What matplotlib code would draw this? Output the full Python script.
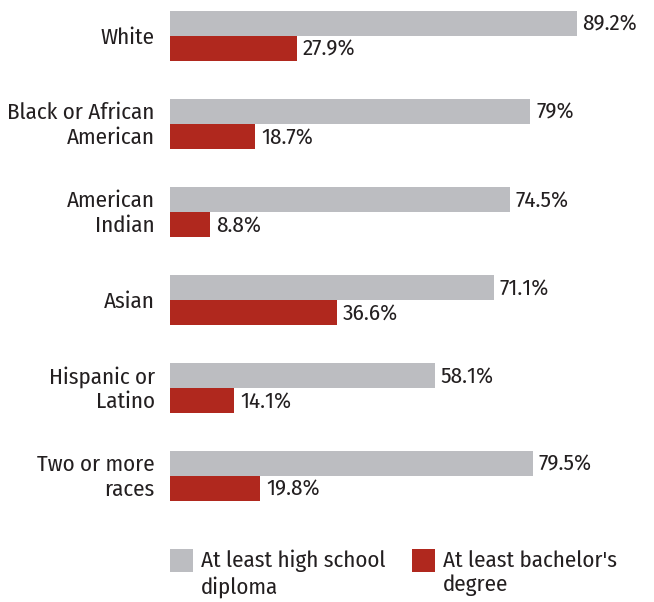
"""Educational attainment by race: paired horizontal bars."""
import matplotlib.pyplot as plt
from matplotlib.patches import Rectangle
import numpy as np

categories = ['White', 'Black or African\nAmerican', 'American\nIndian', 'Asian',
              'Hispanic or\nLatino', 'Two or more\nraces']
high_school = [89.2, 79, 74.5, 71.1, 58.1, 79.5]
bachelor = [27.9, 18.7, 8.8, 36.6, 14.1, 19.8]
series_labels = ['At least high school\ndiploma', "At least bachelor's\ndegree"]

GRAY = '#bcbdc1'
RED = '#b0281e'
TEXT = '#231f20'

plt.rcParams['font.family'] = ['Fira Sans Condensed', 'DejaVu Sans']
FS = 16.5

W, H = 654, 602
fig = plt.figure(figsize=(W / 100, H / 100), dpi=100)
ax = fig.add_axes([170 / W, (H - 520) / H, (W - 170) / W, 520 / H])

y = np.arange(len(categories))
bar_h = 25 / 88

ax.barh(y - bar_h / 2, high_school, height=bar_h, color=GRAY)
ax.barh(y + bar_h / 2, bachelor, height=bar_h, color=RED)

for yi, v in zip(y, high_school):
    ax.annotate(f'{v:g}%', (v, yi - bar_h / 2), xytext=(4, -0.5), textcoords='offset points',
                va='center', ha='left', fontsize=FS, color=TEXT)
for yi, v in zip(y, bachelor):
    ax.annotate(f'{v:g}%', (v, yi + bar_h / 2), xytext=(4, -0.5), textcoords='offset points',
                va='center', ha='left', fontsize=FS, color=TEXT)

for yi, c in zip(y, categories):
    ax.annotate(c, (0, yi), xytext=(-11, -1), textcoords='offset points',
                va='center', ha='right', fontsize=FS, color=TEXT, linespacing=1.18)

ax.set_xlim(0, (W - 170) / 4.563)
ax.set_ylim(len(categories) - 1 + 44 / 88, -36 / 88)
ax.axis('off')

# legend drawn by hand so the swatch lines up with the first text line
for x0, color, label in [(170, GRAY, series_labels[0]), (412, RED, series_labels[1])]:
    fig.add_artist(Rectangle((x0 / W, 1 - 572 / H), 23 / W, 23 / H,
                             transform=fig.transFigure, color=color, lw=0))
    fig.text((x0 + 31) / W, 1 - 550 / H, label, va='top', ha='left',
             fontsize=FS, color=TEXT, linespacing=1.18)

fig.savefig('out.png', dpi=100)
plt.close(fig)
